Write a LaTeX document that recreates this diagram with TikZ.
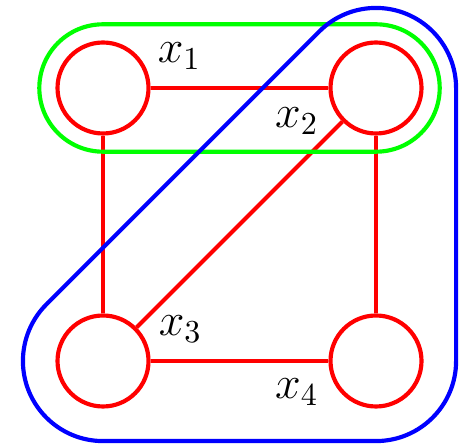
\documentclass[tikz,border=0pt]{standalone}
\usepackage{tikz}
\usetikzlibrary{calc}

\begin{document}
\begin{tikzpicture}[vertex/.style={circle,draw=red,line width=1.3pt,minimum size=1cm,inner sep=0pt},
edge/.style={draw=red,line width=1.3pt},
lbl/.style={font=\Large}]
\useasboundingbox (-1.132,-0.956) rectangle (3.978,3.967);
\node[vertex] (x1) at (0,3) {};
\node[vertex] (x2) at (3,3) {};
\node[vertex] (x3) at (0,0) {};
\node[vertex] (x4) at (3,0) {};
\draw[edge] (x1) -- (x2);
\draw[edge] (x1) -- (x3);
\draw[edge] (x2) -- (x3);
\draw[edge] (x2) -- (x4);
\draw[edge] (x3) -- (x4);
\node[lbl] (l1) at (0.84,3.35) {$x_1$};
\node[lbl] (l2) at (2.13,2.64) {$x_2$};
\node[lbl] (l3) at (0.85,0.35) {$x_3$};
\node[lbl] (l4) at (2.13,-0.34) {$x_4$};

% hyperedges
\draw[green,line width=1.3pt,rounded corners=0.7cm] (-0.7,2.3) rectangle (3.7,3.7);
\draw[blue,line width=1.3pt] ($(x3)+(135:0.88)$) -- ($(x2)+(135:0.88)$) arc (135:0:0.88)
  -- ($(x4)+(0:0.88)$) arc (0:-90:0.88) -- ($(x3)+(-90:0.88)$) arc (270:135:0.88) -- cycle;

\end{tikzpicture}
\end{document}
